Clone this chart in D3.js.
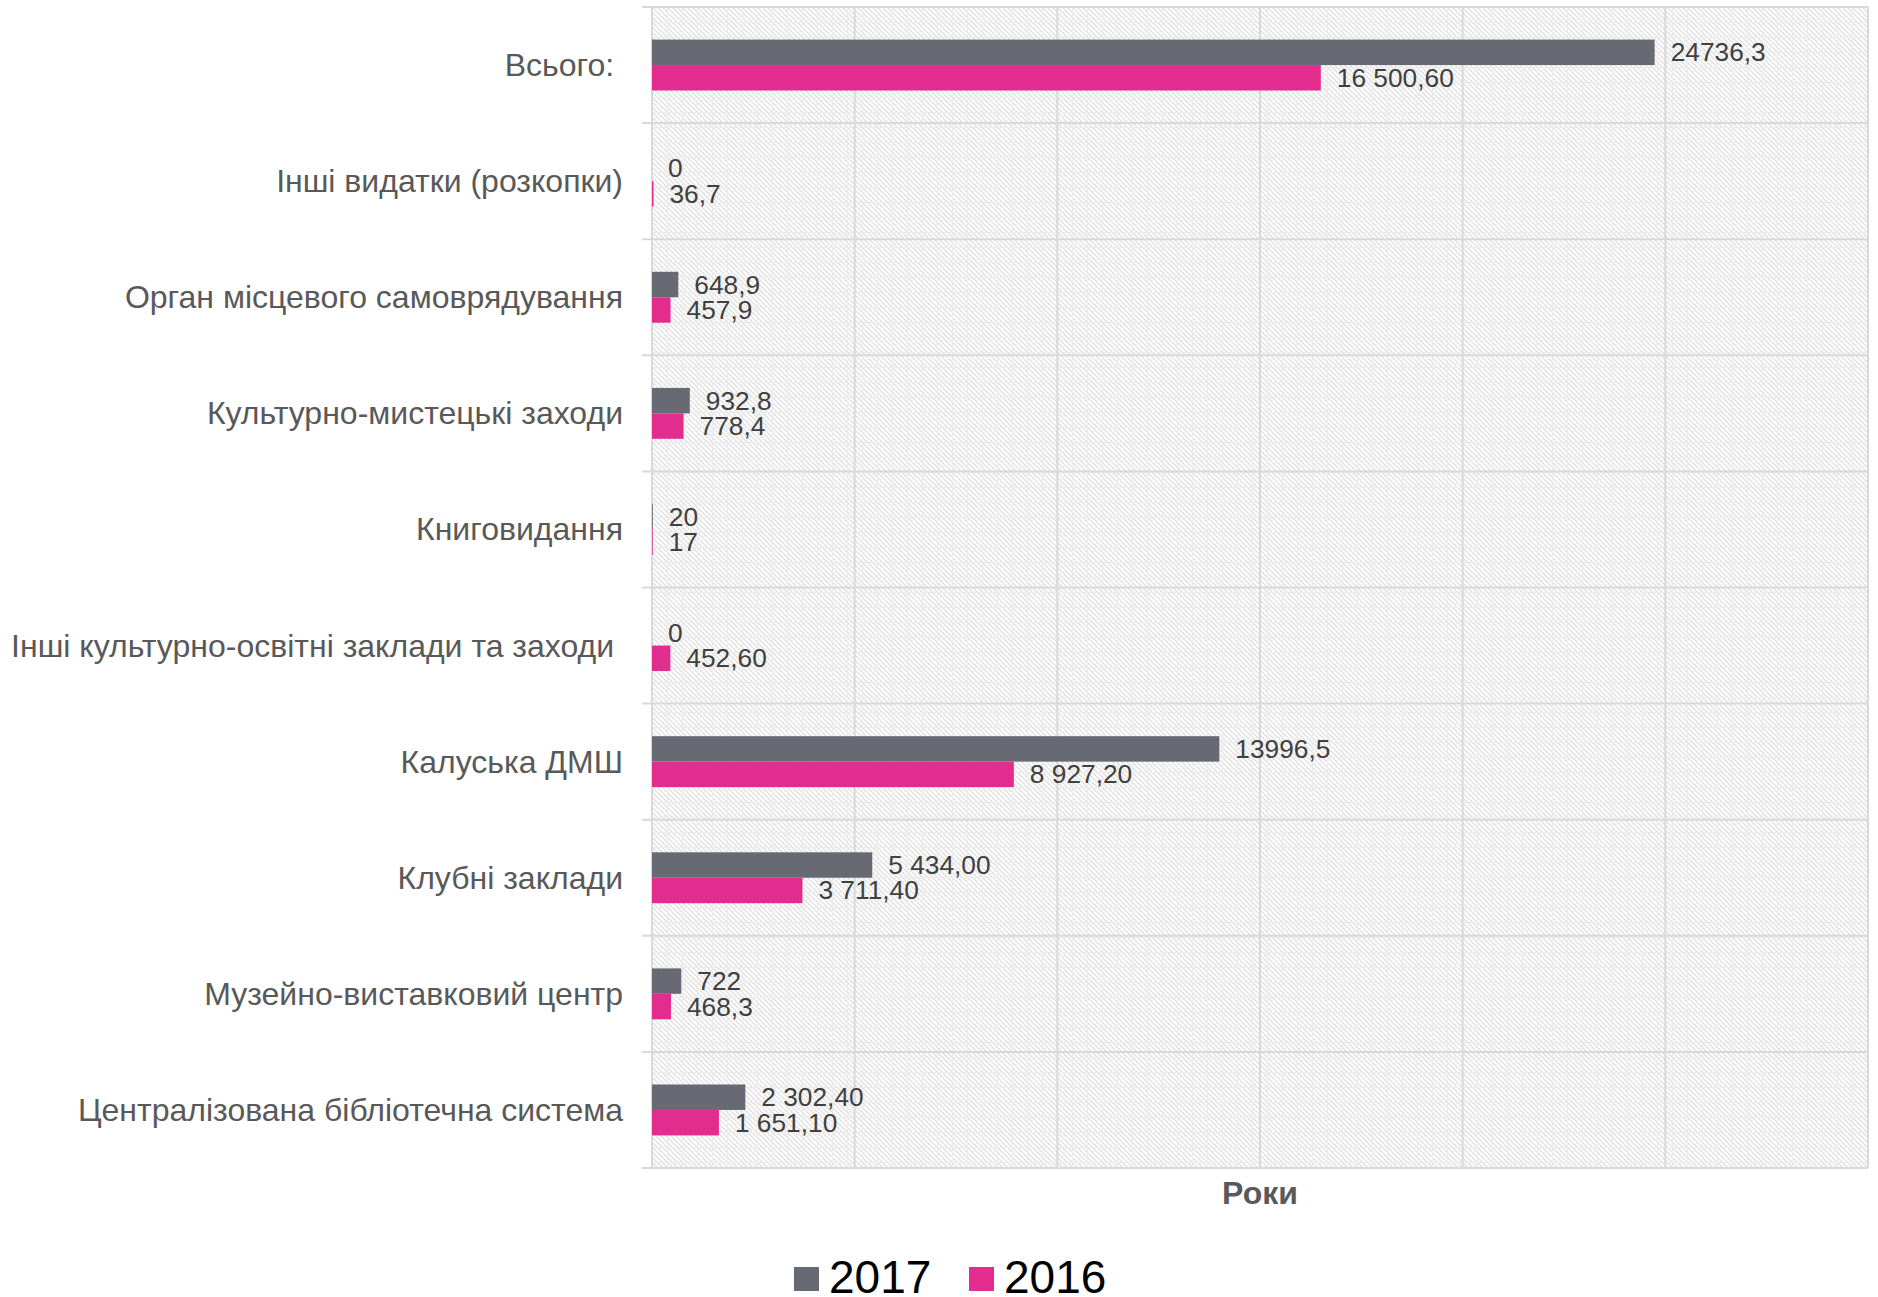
<!DOCTYPE html>
<html><head><meta charset="utf-8">
<script src="https://cdn.jsdelivr.net/npm/d3@7"></script>
<style>
html,body{margin:0;padding:0;background:#fff;}
svg{display:block;font-family:"Liberation Sans",Arial,sans-serif;}
</style></head>
<body>
<svg id="chart" width="1878" height="1297"></svg>
<script>
const categories = [
  "Всього: ",
  "Інші видатки (розкопки)",
  "Орган місцевого самоврядування",
  "Культурно-мистецькі заходи",
  "Книговидання",
  "Інші культурно-освітні заклади та заходи ",
  "Калуська ДМШ",
  "Клубні заклади",
  "Музейно-виставковий центр",
  "Централізована бібліотечна система"
];
const seriesNames = ["2017", "2016"];
const values2017 = [24736.3, 0, 648.9, 932.8, 20, 0, 13996.5, 5434.0, 722, 2302.4];
const values2016 = [16500.6, 36.7, 457.9, 778.4, 17, 452.6, 8927.2, 3711.4, 468.3, 1651.1];
const labels2017 = ["24736,3", "0", "648,9", "932,8", "20", "0", "13996,5", "5 434,00", "722", "2 302,40"];
const labels2016 = ["16 500,60", "36,7", "457,9", "778,4", "17", "452,60", "8 927,20", "3 711,40", "468,3", "1 651,10"];
const xTicks = [0, 5000, 10000, 15000, 20000, 25000, 30000];
const axisTitle = "Роки";

const colors = {"2017": "#676a73", "2016": "#e22d8f"};
const svg = d3.select("#chart");
const L = 652, R = 1868, T = 7, B = 1168;

const x = d3.scaleLinear().domain([0, 30000]).range([L, R]);
const y0 = d3.scaleBand().domain(categories).range([T, B]).padding(0);
const y1 = d3.scaleBand().domain(seriesNames).range([0, y0.bandwidth()]).paddingInner(0).paddingOuter(1.28);

// hatch pattern
const defs = svg.append("defs");
const P = 15;
const pat = defs.append("pattern").attr("id", "hatch").attr("patternUnits", "userSpaceOnUse")
  .attr("x", L).attr("y", T).attr("width", P).attr("height", P);
pat.append("rect").attr("width", P).attr("height", P).attr("fill", "#fff");
let dpath = "";
for (let k = -P; k <= P; k += 5) dpath += `M${k - 2},-2 L${k + P + 2},${P + 2} `;
pat.append("path").attr("d", dpath).attr("stroke", "#e2e2e2").attr("stroke-width", 1.5);
pat.append("path").attr("d", `M0,0.5 H${P} M0.5,0 V${P}`).attr("stroke", "#ececec").attr("stroke-width", 1);

svg.append("rect").attr("x", L).attr("y", T).attr("width", R - L).attr("height", B - T)
  .attr("fill", "url(#hatch)");

const gridColor = "#d9d9d9";
// vertical grid
svg.append("g").selectAll("line").data(xTicks).join("line")
  .attr("x1", d => x(d)).attr("x2", d => x(d)).attr("y1", T).attr("y2", B)
  .attr("stroke", gridColor).attr("stroke-width", 2);
// horizontal separators (category boundaries)
const bounds = categories.map(c => y0(c)).concat([B]);
svg.append("g").selectAll("line").data(bounds).join("line")
  .attr("x1", L - 10).attr("x2", R).attr("y1", d => d).attr("y2", d => d)
  .attr("stroke", gridColor).attr("stroke-width", 2);

// data rows
const rows = categories.map((c, i) => ({
  cat: c,
  items: [
    {s: "2017", v: values2017[i], lab: labels2017[i]},
    {s: "2016", v: values2016[i], lab: labels2016[i]}
  ]
}));

const g = svg.append("g").selectAll("g").data(rows).join("g")
  .attr("transform", d => `translate(0,${y0(d.cat)})`);

g.selectAll("rect").data(d => d.items).join("rect")
  .attr("x", x(0)).attr("y", d => y1(d.s))
  .attr("width", d => x(d.v) - x(0)).attr("height", y1.bandwidth())
  .attr("fill", d => colors[d.s]);

g.selectAll("text").data(d => d.items).join("text")
  .attr("x", d => x(d.v) + 16).attr("y", d => y1(d.s) + y1.bandwidth() / 2)
  .attr("dominant-baseline", "central")
  .attr("font-size", 26.3).attr("fill", "#404040")
  .text(d => d.lab);

// category labels
svg.append("g").selectAll("text").data(categories).join("text")
  .attr("x", 623).attr("y", d => y0(d) + y0.bandwidth() / 2)
  .attr("text-anchor", "end").attr("dominant-baseline", "central")
  .attr("font-size", 32).attr("fill", "#595959")
  .style("white-space", "pre")
  .text(d => d);

// axis title
svg.append("text").attr("x", (L + R) / 2).attr("y", 1193)
  .attr("text-anchor", "middle").attr("dominant-baseline", "central")
  .attr("font-size", 32).attr("font-weight", "bold").attr("fill", "#595959")
  .text(axisTitle);

// legend
const legendItems = [{s: "2017", x: 794}, {s: "2016", x: 969}];
const lg = svg.append("g").selectAll("g").data(legendItems).join("g")
  .attr("transform", d => `translate(${d.x},1267)`);
lg.append("rect").attr("width", 25).attr("height", 24).attr("fill", d => colors[d.s]);
lg.append("text").attr("x", 35).attr("y", 26)
  .attr("font-size", 46).attr("fill", "#000").text(d => d.s);
</script>
</body></html>
